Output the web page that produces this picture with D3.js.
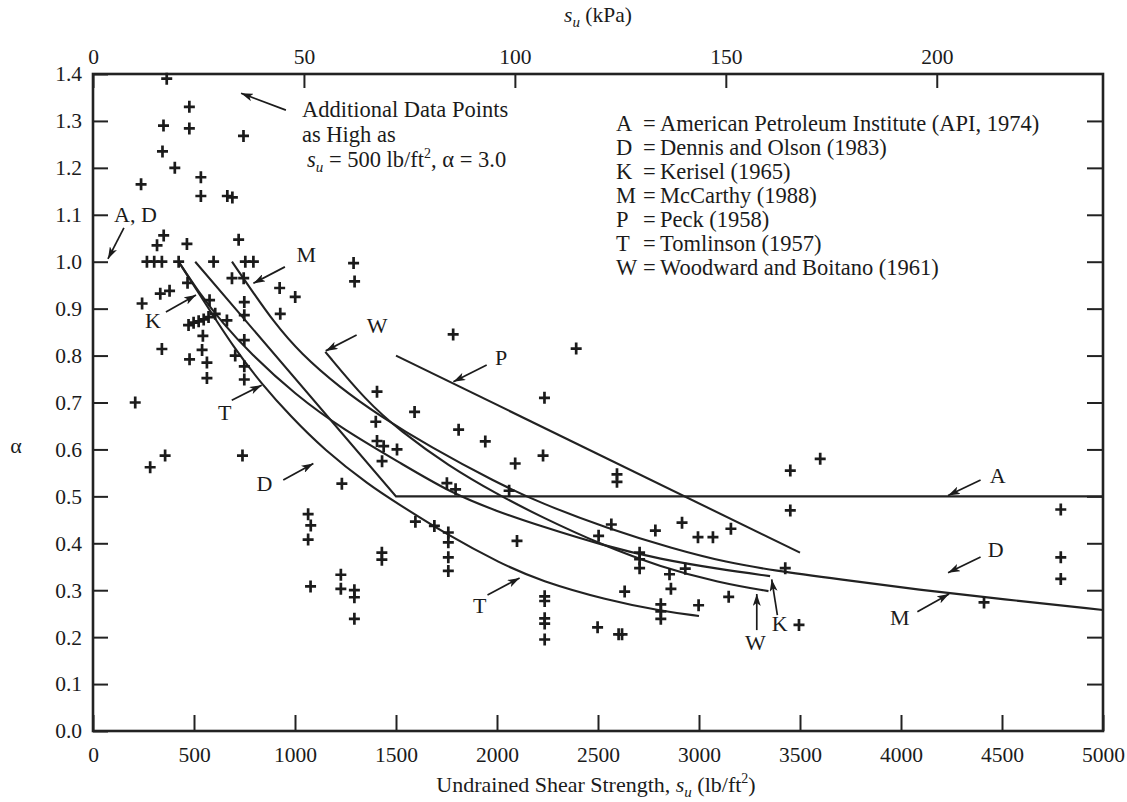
<!DOCTYPE html>
<html>
<head>
<meta charset="utf-8">
<script src="https://cdn.jsdelivr.net/npm/d3@7"></script>
<style>
  body { margin: 0; background: #fff; }
  svg text { font-family: "Liberation Serif", "Times New Roman", serif; fill: #1b1b1b; }
</style>
</head>
<body>
<div id="chart"></div>
<script>
/* adhesion factor alpha vs undrained shear strength */

const ticksSu = d3.range(0, 5001, 500);
const ticksAlpha = d3.range(0, 15).map(i => i / 10);
const ticksKpa = [0, 50, 100, 150, 200];
const psfPerKpa = 20.885;

// [su (lb/ft2), alpha]
const points = [
  [365,1.39],[477,1.33],[349,1.29],[477,1.284],[745,1.268],[344,1.235],[405,1.20],[534,1.18],
  [238,1.165],[534,1.14],[665,1.14],[690,1.137],
  [350,1.056],[317,1.035],[465,1.038],[721,1.047],
  [267,1.0],[303,1.0],[341,1.0],[424,1.0],[597,1.0],[754,1.0],[794,1.0],
  [688,0.965],[746,0.965],[468,0.955],[333,0.932],[379,0.938],[243,0.911],
  [924,0.944],[1001,0.925],[749,0.914],[577,0.918],[927,0.889],[749,0.886],[663,0.875],
  [473,0.865],[498,0.87],[523,0.873],[548,0.877],[572,0.882],[605,0.889],
  [544,0.842],[749,0.833],[1290,0.997],[1295,0.958],[341,0.814],[478,0.792],[540,0.812],[564,0.785],
  [704,0.80],[749,0.777],[749,0.749],[564,0.752],[209,0.70],[1406,0.723],[1400,0.659],
  [283,0.562],[357,0.587],[740,0.587],[1232,0.527],
  [1065,0.462],[1078,0.438],[1065,0.408],[1077,0.308],
  [1227,0.333],[1227,0.303],[1294,0.30],[1294,0.285],[1294,0.239],
  [1430,0.38],[1430,0.365],
  [1406,0.618],[1439,0.607],[1505,0.60],[1431,0.575],
  [1592,0.68],[1810,0.642],[1942,0.617],[2228,0.587],[2090,0.57],
  [1752,0.528],[1795,0.515],[2060,0.512],
  [1596,0.446],[1690,0.437],[1759,0.423],[1759,0.402],[1759,0.37],[1759,0.341],
  [2099,0.405],
  [2236,0.287],[2236,0.277],[2236,0.24],[2236,0.229],[2236,0.195],
  [1783,0.845],[2235,0.71],[2392,0.815],
  [2594,0.547],[2594,0.531],[3452,0.555],[3600,0.58],[3452,0.47],
  [2566,0.44],[2503,0.416],[2784,0.427],[2916,0.444],[2995,0.413],[3069,0.413],[3158,0.431],
  [2706,0.38],[2706,0.366],[2706,0.347],[2854,0.334],[2932,0.346],[2861,0.303],[3427,0.347],[2632,0.297],
  [2811,0.27],[2811,0.255],[2811,0.239],[2998,0.268],[3147,0.286],[2498,0.221],[2602,0.206],[2619,0.206],
  [3495,0.226],[4791,0.472],[4791,0.37],[4791,0.324],[4411,0.274]
];

// design curves
const curveA = [[506,1.0],[1500,0.5],[5000,0.5]];
const curveP = [[1500,0.80],[3500,0.38]];
const curveM = [[688,1.0],[779,0.943],[894,0.872],[1026,0.805],[1224,0.731],[1422,0.671],[1670,0.605],
  [1990,0.531],[2214,0.486],[2544,0.432],[2875,0.388],[3139,0.359],[3370,0.342],[3700,0.323],
  [4087,0.301],[4500,0.281],[5000,0.258]];
const curveW = [[1150,0.808],[1353,0.703],[1522,0.639],[1760,0.565],[2000,0.505],[2214,0.457],
  [2528,0.395],[2808,0.35],[3100,0.316],[3344,0.298]];
const curveK = [[424,1.0],[520,0.937],[640,0.87],[778,0.805],[1000,0.717],[1240,0.642],[1522,0.571],
  [1769,0.508],[2000,0.468],[2214,0.437],[2528,0.395],[2808,0.366],[3100,0.345],[3352,0.33]];
const curveT = [[424,1.0],[550,0.915],[700,0.815],[836,0.739],[977,0.671],[1142,0.60],[1373,0.522],
  [1500,0.487],[1753,0.418],[2018,0.357],[2214,0.32],[2544,0.279],[2812,0.256],[3000,0.245]];

const legendKeys = ["A", "D", "K", "M", "P", "T", "W"];
const legendNames = ["American Petroleum Institute (API, 1974)", "Dennis and Olson (1983)",
  "Kerisel (1965)", "McCarthy (1988)", "Peck (1958)", "Tomlinson (1957)",
  "Woodward and Boitano (1961)"];

// curve labels: text anchor, arrow start, arrow tip (in su, alpha)
const notes = [
  {t: "A, D", at: [104,1.085], from: [153,1.072], to: [74,1.006]},
  {t: "K", at: [257,0.859], from: [361,0.893], to: [510,0.929]},
  {t: "M", at: [1008,0.999], from: [950,0.989], to: [794,0.954]},
  {t: "W", at: [1355,0.848], from: [1305,0.844], to: [1152,0.810]},
  {t: "T", at: [619,0.663], from: [687,0.705], to: [835,0.737]},
  {t: "P", at: [1990,0.780], from: [1949,0.780], to: [1784,0.744]},
  {t: "D", at: [810,0.511], from: [942,0.535], to: [1091,0.570]},
  {t: "T", at: [1881,0.251], from: [1953,0.290], to: [2112,0.326]},
  {t: "A", at: [4439,0.528], from: [4394,0.535], to: [4233,0.502]},
  {t: "D", at: [4430,0.371], from: [4394,0.371], to: [4233,0.337]},
  {t: "M", at: [3946,0.226], from: [4081,0.254], to: [4238,0.292]},
  {t: "W", at: [3228,0.173], from: [3286,0.215], to: [3286,0.292]},
  {t: "K", at: [3360,0.213], from: [3388,0.247], to: [3360,0.323]}
];

const width = 1127,
      height = 802,
      margin = ({top: 74, right: 24, bottom: 71, left: 93});

let svg = d3.select("#chart")
    .append("svg")
    .attr("width", width)
    .attr("height", height)
    .attr("viewBox", [0, 0, width, height]);

svg.append("defs").append("marker")
    .attr("id", "head")
    .attr("viewBox", "0 0 12 8")
    .attr("refX", 12)
    .attr("refY", 4)
    .attr("markerWidth", 12)
    .attr("markerHeight", 8)
    .attr("markerUnits", "userSpaceOnUse")
    .attr("orient", "auto")
    .append("path")
    .attr("d", "M0,0L12,4L0,8L3,4Z")
    .attr("fill", "#1b1b1b");

let x = d3.scaleLinear()
    .domain([0, 5000])
    .range([margin.left, width - margin.right]);

let xk = d3.scaleLinear()
    .domain([0, 5000 / psfPerKpa])
    .range([margin.left, width - margin.right]);

let y = d3.scaleLinear()
    .domain([0, 1.4])
    .range([height - margin.bottom, margin.top]);

function styleAxis(g, size) {
    g.select(".domain").remove();
    g.selectAll(".tick line").attr("stroke", "#222").attr("stroke-width", 2);
    g.selectAll(".tick text")
        .attr("font-size", size)
        .attr("font-family", "Liberation Serif, serif")
        .attr("fill", "#1b1b1b");
}

svg.append("g")
    .attr("transform", `translate(${margin.left},0)`)
    .call(d3.axisLeft(y).tickValues(ticksAlpha).tickFormat(d3.format(".1f")).tickSize(-15).tickPadding(11))
    .call(g => styleAxis(g, 21.5));

svg.append("g")
    .attr("transform", `translate(${width - margin.right},0)`)
    .call(d3.axisRight(y).tickValues(ticksAlpha.slice(1, -1)).tickFormat("").tickSize(-16))
    .call(g => styleAxis(g, 21.5));

svg.append("g")
    .attr("transform", `translate(0,${height - margin.bottom})`)
    .call(d3.axisBottom(x).tickValues(ticksSu).tickFormat(d3.format("d")).tickSize(-16).tickPadding(16))
    .call(g => styleAxis(g, 21.5));

svg.append("g")
    .attr("transform", `translate(0,${margin.top})`)
    .call(d3.axisTop(xk).tickValues(ticksKpa).tickSize(-14).tickPadding(10))
    .call(g => styleAxis(g, 21.5));

// frame
svg.append("rect")
    .attr("x", margin.left)
    .attr("y", margin.top)
    .attr("width", width - margin.left - margin.right)
    .attr("height", height - margin.top - margin.bottom)
    .attr("fill", "none")
    .attr("stroke", "#222")
    .attr("stroke-width", 2.6);

// curves
let smooth = d3.line().x(d => x(d[0])).y(d => y(d[1])).curve(d3.curveBasis);
let straight = d3.line().x(d => x(d[0])).y(d => y(d[1]));

svg.selectAll(".curve")
    .data([[curveA, straight], [curveP, straight], [curveM, smooth], [curveW, smooth], [curveK, smooth], [curveT, smooth]])
    .join("path")
    .attr("class", "curve")
    .attr("d", d => d[1](d[0]))
    .attr("fill", "none")
    .attr("stroke", "#222")
    .attr("stroke-width", 2.1);

// data points
svg.selectAll(".pt")
    .data(points)
    .join("path")
    .attr("class", "pt")
    .attr("transform", d => `translate(${x(d[0])},${y(d[1])})`)
    .attr("d", "M-5.5,0H5.5M0,-6V6")
    .attr("stroke", "#1b1b1b")
    .attr("stroke-width", 2.7);

// curve labels
let note = svg.selectAll(".note")
    .data(notes)
    .join("g")
    .attr("class", "note");

note.append("line")
    .attr("x1", d => x(d.from[0]))
    .attr("y1", d => y(d.from[1]))
    .attr("x2", d => x(d.to[0]))
    .attr("y2", d => y(d.to[1]))
    .attr("stroke", "#1b1b1b")
    .attr("stroke-width", 1.7)
    .attr("marker-end", "url(#head)");

note.append("text")
    .text(d => d.t)
    .attr("x", d => x(d.at[0]))
    .attr("y", d => y(d.at[1]))
    .attr("font-size", 22);

// additional data note
svg.append("line")
    .attr("x1", x(955)).attr("y1", y(1.323))
    .attr("x2", x(733)).attr("y2", y(1.359))
    .attr("stroke", "#1b1b1b")
    .attr("stroke-width", 1.7)
    .attr("marker-end", "url(#head)");

let addl = svg.append("text").attr("font-size", 22.5);
addl.append("tspan").attr("x", 302).attr("y", 117).text("Additional Data Points");
addl.append("tspan").attr("x", 302).attr("y", 142).text("as High as");
let l3 = addl.append("tspan").attr("x", 307).attr("y", 167);
l3.append("tspan").attr("font-style", "italic").text("s");
l3.append("tspan").attr("font-style", "italic").attr("font-size", 15).attr("dy", 5).text("u");
l3.append("tspan").attr("dy", -5).text(" = 500 lb/ft");
l3.append("tspan").attr("font-size", 14).attr("dy", -9).text("2");
l3.append("tspan").attr("dy", 9).text(", \u03b1 = 3.0");

// legend
let legend = svg.append("g").attr("font-size", 22.5);
legendKeys.forEach((k, i) => {
    let ly = 131 + i * 24;
    legend.append("text").attr("x", 616).attr("y", ly).text(k);
    legend.append("text").attr("x", 643).attr("y", ly).text("=");
    legend.append("text").attr("x", 660).attr("y", ly).text(legendNames[i]);
});

// axis titles
let topTitle = svg.append("text")
    .attr("x", 598).attr("y", 22)
    .attr("text-anchor", "middle")
    .attr("font-size", 21.5);
topTitle.append("tspan").attr("font-style", "italic").text("s");
topTitle.append("tspan").attr("font-style", "italic").attr("font-size", 15).attr("dy", 5).text("u");
topTitle.append("tspan").attr("dy", -5).text(" (kPa)");

let bottomTitle = svg.append("text")
    .attr("x", 596).attr("y", 792)
    .attr("text-anchor", "middle")
    .attr("font-size", 22);
bottomTitle.append("tspan").text("Undrained Shear Strength, ");
bottomTitle.append("tspan").attr("font-style", "italic").text("s");
bottomTitle.append("tspan").attr("font-style", "italic").attr("font-size", 15).attr("dy", 5).text("u");
bottomTitle.append("tspan").attr("dy", -5).text(" (lb/ft");
bottomTitle.append("tspan").attr("font-size", 14).attr("dy", -9).text("2");
bottomTitle.append("tspan").attr("dy", 9).text(")");

svg.append("text")
    .attr("x", 16).attr("y", 453)
    .attr("text-anchor", "middle")
    .attr("font-size", 22)
    .text("\u03b1");
</script>
</body>
</html>
